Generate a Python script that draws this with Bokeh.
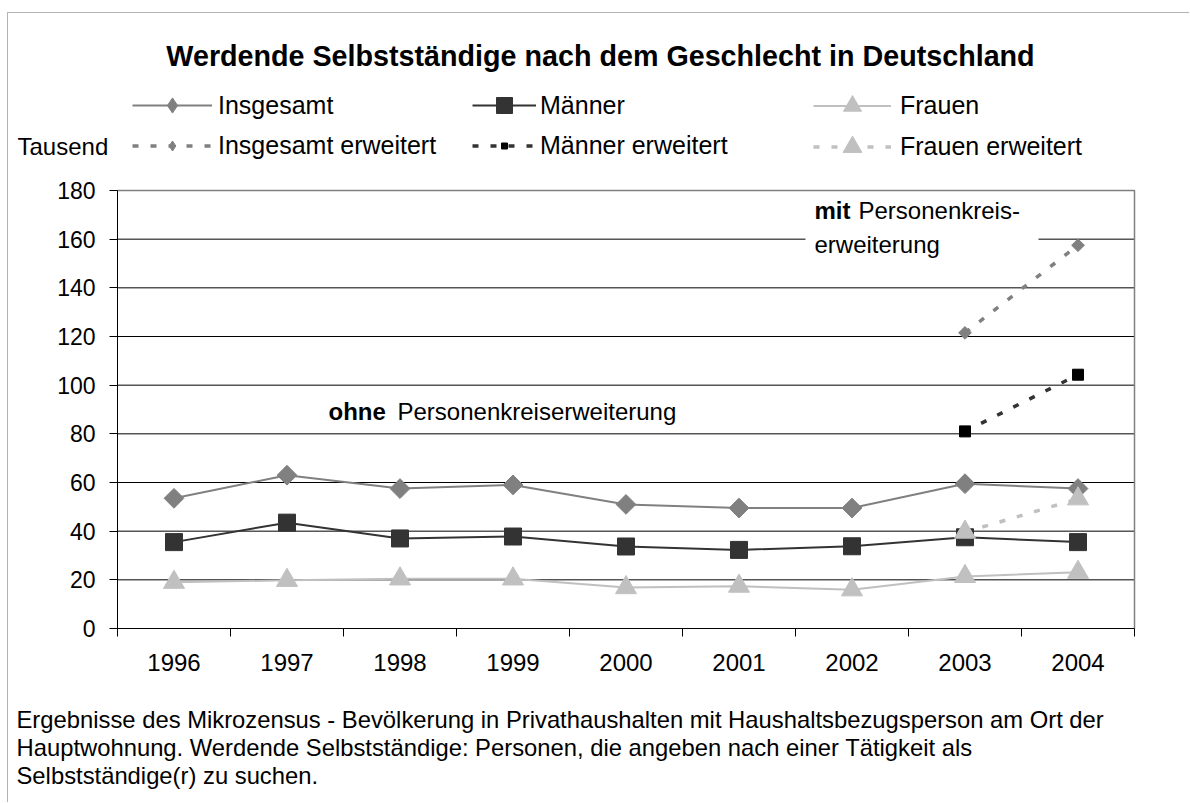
import numpy as np
from bokeh.plotting import figure
from bokeh.models import (Range1d, FixedTicker, Label, Legend, LegendItem, BoxAnnotation,
                          LinearAxis)
from bokeh.embed import file_html
from bokeh.resources import INLINE

# ---------------- data ----------------
years = ["1996", "1997", "1998", "1999", "2000", "2001", "2002", "2003", "2004"]
insgesamt = [53.5, 63.0, 57.5, 59.0, 51.0, 49.5, 49.5, 59.5, 57.5]
maenner = [35.5, 43.5, 37.0, 37.8, 33.7, 32.3, 33.8, 37.5, 35.5]
frauen = [19.0, 19.8, 20.4, 20.4, 16.8, 17.4, 15.9, 21.4, 23.1]
ext_years = ["2003", "2004"]
insgesamt_ext = [121.5, 157.5]
maenner_ext = [81.0, 104.3]
frauen_ext = [39.6, 53.3]
y_ticks = [0, 20, 40, 60, 80, 100, 120, 140, 160, 180]

title_text = "Werdende Selbstständige nach dem Geschlecht in Deutschland"
unit_text = "Tausend"
foot_lines = [
    "Ergebnisse des Mikrozensus - Bevölkerung in Privathaushalten mit Haushaltsbezugsperson am Ort der",
    "Hauptwohnung. Werdende Selbstständige: Personen, die angeben nach einer Tätigkeit als",
    "Selbstständige(r) zu suchen.",
]

FONT = "Liberation Sans"
C_INS, C_MAN, C_FRA = "#808080", "#333333", "#c0c0c0"
DASH = "6 12"

x = list(range(1, len(years) + 1))
xe = [years.index(y) + 1 for y in ext_years]
x_lo, x_hi = 0.5, len(years) + 0.5
y_lo, y_hi = y_ticks[0], y_ticks[-1]

# ---------------- geometry (page pixels) ----------------
W, H = 1189, 802
PL, PT, PR, PB = 117, 190, 1134, 628          # plot area
kx = (PR - PL) / (x_hi - x_lo)
ky = (PB - PT) / (y_hi - y_lo)
x_range = Range1d(x_lo - PL / kx, x_hi + (W - PR) / kx)
y_range = Range1d(y_lo - (H - PB) / ky, y_hi + PT / ky)

p = figure(width=W, height=H, x_range=x_range, y_range=y_range,
           x_axis_type=None, y_axis_type=None,
           output_backend="svg", toolbar_location=None, min_border=0)
p.min_border_left = p.min_border_right = p.min_border_top = p.min_border_bottom = 0
p.grid.visible = False
p.outline_line_color = None
p.background_fill_color = "white"
p.border_fill_color = "white"


def sx(X):
    return X


def sy(Y):
    return H - Y


# chart-area border (top and left edges)
p.add_layout(BoxAnnotation(left=sx(7), right=sx(W + 50), top=sy(12), bottom=sy(H + 50),
                           left_units="screen", right_units="screen",
                           top_units="screen", bottom_units="screen",
                           fill_alpha=0, line_color="black", line_width=1, level="underlay"))

# grid lines and plot-area outline
p.segment(x0=[x_lo] * (len(y_ticks) - 1), x1=[x_hi] * (len(y_ticks) - 1),
          y0=y_ticks[1:], y1=y_ticks[1:], line_color="black", line_width=1)
p.segment(x0=[x_lo, x_hi], x1=[x_hi, x_hi], y0=[y_hi, y_lo], y1=[y_hi, y_hi],
          line_color="#808080", line_width=1.5)

# axes placed at the plot-area edges
yax = LinearAxis(fixed_location=x_lo, bounds=(y_lo, y_hi), ticker=FixedTicker(ticks=y_ticks))
yax.axis_line_color = "black"
yax.major_tick_line_color = "black"
yax.major_tick_out = 8
yax.major_tick_in = 0
yax.minor_tick_line_color = None
yax.major_label_standoff = 14
yax.major_label_text_font = FONT
yax.major_label_text_font_size = "23px"
yax.major_label_text_color = "black"
p.add_layout(yax, "left")

xax = LinearAxis(fixed_location=y_lo, bounds=(x_lo, x_hi),
                 ticker=FixedTicker(ticks=x, minor_ticks=[i + 0.5 for i in range(len(years) + 1)]))
xax.major_label_overrides = {i: yv for i, yv in zip(x, years)}
xax.axis_line_color = "black"
xax.major_tick_out = 0
xax.major_tick_in = 0
xax.minor_tick_out = 8
xax.minor_tick_in = 0
xax.minor_tick_line_color = "black"
xax.major_label_standoff = 17
xax.major_label_text_font = FONT
xax.major_label_text_font_size = "24px"
xax.major_label_text_color = "black"
p.add_layout(xax, "below")

# ---------------- series ----------------
l_ins = p.line(x, insgesamt, line_color=C_INS, line_width=2)
p.scatter(x, insgesamt, marker="square", angle=np.pi / 4, size=14, fill_color=C_INS, line_color=C_INS)
l_man = p.line(x, maenner, line_color=C_MAN, line_width=2)
m_man = p.scatter(x, maenner, marker="square", size=17, fill_color=C_MAN, line_color=C_MAN)
l_fra = p.line(x, frauen, line_color=C_FRA, line_width=2)
m_fra = p.scatter(x, frauen, marker="triangle", size=21, fill_color=C_FRA, line_color=C_FRA)

l_ins_e = p.line(xe, insgesamt_ext, line_color=C_INS, line_width=3.5, line_dash=DASH)
p.scatter(xe, insgesamt_ext, marker="square", angle=np.pi / 4, size=9, fill_color=C_INS, line_color=C_INS)
l_man_e = p.line(xe, maenner_ext, line_color=C_MAN, line_width=3.5, line_dash=DASH)
m_man_e = p.scatter(xe, maenner_ext, marker="square", size=11, fill_color="black", line_color="black")
l_fra_e = p.line(xe, frauen_ext, line_color=C_FRA, line_width=3.5, line_dash=DASH)
m_fra_e = p.scatter(xe, frauen_ext, marker="triangle", size=21, fill_color=C_FRA, line_color=C_FRA)

# legend-only diamond glyphs (legend glyphs are not rotated)
d_ins = p.scatter(x, insgesamt, marker="diamond", size=14, color=C_INS, visible=False)
d_ins_e = p.scatter(xe, insgesamt_ext, marker="diamond", size=9, color=C_INS, visible=False)

# ---------------- legend ----------------
LFS, LTH = "25px", 28


def add_leg(label, rends, gx, cy, gw, gh, standoff):
    row_h = max(gh, LTH)
    leg = Legend(items=[LegendItem(label=label, renderers=rends)],
                 location=(sx(gx), sy(cy + row_h / 2)), orientation="vertical",
                 glyph_width=gw, glyph_height=gh, label_height=gh,
                 label_standoff=standoff, padding=0, margin=0, spacing=0,
                 border_line_alpha=0, background_fill_alpha=0, inactive_fill_alpha=0,
                 label_text_font=FONT, label_text_font_size=LFS, label_text_color="black",
                 label_text_baseline="middle")
    p.add_layout(leg, "center")


R1, R2 = 105, 146
add_leg("Insgesamt", [l_ins, d_ins], 132, R1, 80, 38, 6)
add_leg("Männer", [l_man, m_man], 472, R1, 64, 40, 4)
add_leg("Frauen", [l_fra, m_fra], 813, R1, 78, 45, 9)
add_leg("Insgesamt erweitert", [l_ins_e, d_ins_e], 132, R2, 80, 25, 6)
add_leg("Männer erweitert", [l_man_e, m_man_e], 472, R2, 64, 15, 4)
add_leg("Frauen erweitert", [l_fra_e, m_fra_e], 813, R2, 78, 47, 9)

# ---------------- texts ----------------
def txt(text, X, Y, size, bold=False, align="left"):
    p.add_layout(Label(x=sx(X), y=sy(Y), x_units="screen", y_units="screen", text=text,
                       text_font=FONT, text_font_size=size,
                       text_font_style="bold" if bold else "normal",
                       text_color="black", text_align=align, text_baseline="middle"))


txt(title_text, 600, 55, "28.7px", bold=True, align="center")
txt(unit_text, 17, 146, "24px")

# white box behind the "mit" note interrupts the grid line
p.add_layout(BoxAnnotation(left=sx(805), right=sx(1038), top=sy(196), bottom=sy(262),
                           left_units="screen", right_units="screen",
                           top_units="screen", bottom_units="screen",
                           fill_color="white", fill_alpha=1, line_alpha=0))
txt("ohne", 328, 411, "24px", bold=True)
txt("Personenkreiserweiterung", 397, 411, "24px")
txt("mit", 814, 210, "24px", bold=True)
txt("Personenkreis-", 858, 210, "24px")
txt("erweiterung", 814, 244, "24px")

for i, t in enumerate(foot_lines):
    txt(t, 16, 719 + i * 28, "23.8px")

open("out.html", "w").write(file_html(p, INLINE))
